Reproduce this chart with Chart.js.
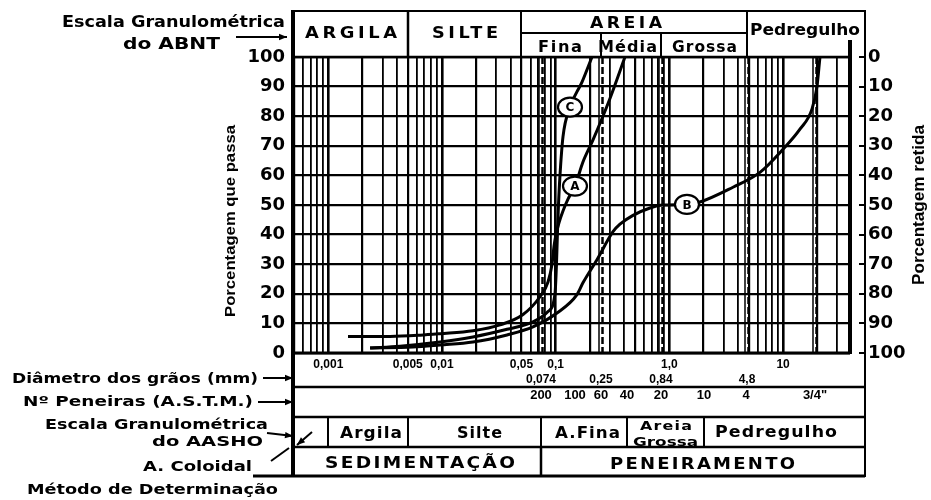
<!DOCTYPE html>
<html lang="pt">
<head>
<meta charset="utf-8">
<title>Curvas granulométricas</title>
<script src="https://cdn.jsdelivr.net/npm/chart.js@4.4.1/dist/chart.umd.min.js"></script>
<style>
  html, body { margin: 0; padding: 0; background: #fff; }
  canvas { display: block; }
</style>
</head>
<body>
<canvas id="grafico" width="931" height="500"></canvas>
<script>
// Grain diameter (mm) and percentage passing for samples A, B and C
const diametroA = [0.00149, 0.00349, 0.00641, 0.00960, 0.0187, 0.0324, 0.0516, 0.0727, 0.0856, 0.0928, 0.0966, 0.1006, 0.1069, 0.1159, 0.1283, 0.1478, 0.1737, 0.2129, 0.3003, 0.4069];
const passaA    = [5.6, 5.6, 6.0, 6.5, 7.5, 9.5, 13, 19, 24, 30, 36, 40, 44, 48, 52, 56.4, 64.5, 72, 86, 100];

const diametroB = [0.00233, 0.00556, 0.00960, 0.0187, 0.0373, 0.0631, 0.1027, 0.1539, 0.1737, 0.2308, 0.3192, 0.3677, 0.4785, 0.6752, 0.8786, 1.428, 1.858, 3.626, 6.263, 9.979, 14.08, 17.96, 19.87, 21.11];
const passaB    = [1.7, 2.0, 2.7, 3.7, 6.1, 8.8, 13.5, 19.7, 23.7, 31.5, 41, 43.5, 46.5, 49, 50, 50.2, 51, 56, 61, 68.8, 75.6, 82.4, 90, 100];

const diametroC = [0.00233, 0.00427, 0.00960, 0.0187, 0.0373, 0.0631, 0.0856, 0.0986, 0.1016, 0.1037, 0.1058, 0.1091, 0.1159, 0.1336, 0.1703, 0.2086];
const passaC    = [1.7, 2.3, 3.7, 5.4, 8, 10.5, 14, 20, 30, 41, 50, 60, 73, 83, 91.5, 100];

// Curve identifiers placed on each curve
const rotulos        = ['C', 'A', 'B'];
const rotuloDiametro = [0.1336, 0.1478, 1.428];
const rotuloPassa    = [83.05, 56.4, 50.2];

// Axis ranges and tick labels
const faixaDiametro   = [0.000489, 38.8];
const ticksDiametro   = [0.001, 0.005, 0.01, 0.05, 0.1, 1, 10];
const textosDiametro  = ['0,001', '0,005', '0,01', '0,05', '0,1', '1,0', '10'];
const ticksPercent    = [0, 10, 20, 30, 40, 50, 60, 70, 80, 90, 100];

// Sieve openings (mm) and ASTM sieve numbers
const aberturas       = [0.074, 0.25, 0.84, 4.8];
const textosAberturas = ['0,074', '0,25', '0,84', '4,8'];
const peneiras        = [0.074, 0.149, 0.25, 0.42, 0.84, 2.0, 4.76, 19.1];
const numerosPeneiras = ['200', '100', '60', '40', '20', '10', '4', '3/4"'];
const linhasPeneiras  = [0.074, 0.25, 0.84, 4.8, 19.1];

// Fraction limits (mm) of the ABNT and AASHO scales
const limitesABNT  = [0.005, 0.05, 0.25, 0.84, 4.8];
const limitesAASHO = [0.001, 0.005, 0.074, 0.42, 2.0];

// log-paper grid: 1..9 x 10^k
const linhasGrade = [];
for (let e = -4; e <= 1; e++) {
  for (let m = 1; m <= 9; m++) {
    const v = +(m * Math.pow(10, e)).toPrecision(6);
    if (v >= faixaDiametro[0] && v <= faixaDiametro[1]) linhasGrade.push(v);
  }
}

const SANS = 'DejaVu Sans';

function seg(ctx, x0, y0, x1, y1, w) {
  ctx.lineWidth = w;
  ctx.beginPath();
  ctx.moveTo(x0, y0);
  ctx.lineTo(x1, y1);
  ctx.stroke();
}

function seta(ctx, x0, y0, x1, y1) {
  seg(ctx, x0, y0, x1, y1, 2);
  const ang = Math.atan2(y1 - y0, x1 - x0);
  const L = 8, W = 3.2;
  ctx.beginPath();
  ctx.moveTo(x1, y1);
  ctx.lineTo(x1 - L * Math.cos(ang) + W * Math.sin(ang), y1 - L * Math.sin(ang) - W * Math.cos(ang));
  ctx.lineTo(x1 - L * Math.cos(ang) - W * Math.sin(ang), y1 - L * Math.sin(ang) + W * Math.cos(ang));
  ctx.closePath();
  ctx.fill();
}

// text squeezed or stretched to span x0..x1 on the given baseline
function texto(ctx, t, x0, x1, base, size, spacing, family) {
  ctx.save();
  ctx.font = 'bold ' + size + 'px "' + (family || SANS) + '"';
  ctx.letterSpacing = (spacing || 0) + 'px';
  const w = ctx.measureText(t).width - (spacing || 0);
  ctx.translate(x0, base);
  ctx.scale((x1 - x0) / w, 1);
  ctx.textAlign = 'left';
  ctx.textBaseline = 'alphabetic';
  ctx.fillStyle = '#000';
  ctx.fillText(t, 0, 0);
  ctx.restore();
}

function textoVertical(ctx, t, cx, y0, y1, size, family) {
  ctx.save();
  ctx.translate(cx, (y0 + y1) / 2);
  ctx.rotate(-Math.PI / 2);
  ctx.font = 'bold ' + size + 'px "' + family + '"';
  const w = ctx.measureText(t).width;
  ctx.scale((y1 - y0) / w, 1);
  ctx.textAlign = 'center';
  ctx.textBaseline = 'middle';
  ctx.fillStyle = '#000';
  ctx.fillText(t, 0, 0);
  ctx.restore();
}

function centrado(ctx, t, cx, base, size) {
  ctx.save();
  ctx.font = 'bold ' + size + 'px "Liberation Sans"';
  ctx.textAlign = 'center';
  ctx.textBaseline = 'alphabetic';
  ctx.fillStyle = '#000';
  ctx.fillText(t, cx, base);
  ctx.restore();
}

const folha = {
  id: 'folha',
  beforeDatasetsDraw(chart) {
    const { ctx, chartArea: a, scales: { x } } = chart;
    ctx.save();
    ctx.strokeStyle = '#000';
    linhasPeneiras.forEach(v => {
      const px = Math.round(x.getPixelForValue(v));
      ctx.setLineDash([]);
      seg(ctx, px - 2, a.top, px - 2, a.bottom, 1.5);
      ctx.setLineDash([7, 3]);
      seg(ctx, px + 1.5, a.top, px + 1.5, a.bottom, 2.5);
    });
    ctx.restore();
  },
  afterDatasetsDraw(chart) {
    const { ctx, scales: { x, y } } = chart;
    ctx.save();
    rotulos.forEach((t, i) => {
      const px = x.getPixelForValue(rotuloDiametro[i]);
      const py = y.getPixelForValue(rotuloPassa[i]);
      ctx.beginPath();
      ctx.ellipse(px, py, 12, 9.5, 0, 0, Math.PI * 2);
      ctx.fillStyle = '#fff';
      ctx.fill();
      ctx.lineWidth = 2.2;
      ctx.strokeStyle = '#000';
      ctx.stroke();
      ctx.fillStyle = '#000';
      ctx.font = 'bold 12px "' + SANS + '"';
      ctx.textAlign = 'center';
      ctx.textBaseline = 'middle';
      ctx.fillText(t, px, py + 1);
    });
    ctx.restore();
  },
  afterDraw(chart) {
    const { ctx, chartArea: a, scales: { x, y2 } } = chart;
    const L = a.left, R = 865, D = a.right;
    const X = v => Math.round(x.getPixelForValue(v));
    ctx.save();
    ctx.strokeStyle = '#000';
    ctx.fillStyle = '#000';

    // plot frame
    seg(ctx, L, 10, L, 477, 4);
    seg(ctx, L - 2, a.bottom, D, a.bottom, 3);
    seg(ctx, L, a.top, D, a.top, 2.5);
    seg(ctx, D, 40, D, a.bottom + 1, 4);
    seg(ctx, R, 10, R, 477, 2);
    ticksPercent.forEach(v => {
      const py = Math.round(y2.getPixelForValue(v));
      seg(ctx, R - 6, py, R, py, 2);
    });

    // ABNT header
    seg(ctx, L, 11, R, 11, 2);
    seg(ctx, X(limitesABNT[0]), 11, X(limitesABNT[0]), a.top, 2.5);
    seg(ctx, X(limitesABNT[1]), 11, X(limitesABNT[1]), a.top, 2);
    seg(ctx, X(limitesABNT[4]), 11, X(limitesABNT[4]), a.top, 2);
    seg(ctx, X(limitesABNT[1]), 33, X(limitesABNT[4]), 33, 2);
    seg(ctx, X(limitesABNT[2]), 33, X(limitesABNT[2]), a.top, 2);
    seg(ctx, X(limitesABNT[3]), 33, X(limitesABNT[3]), a.top, 2);

    texto(ctx, 'ARGILA', 305, 397, 38, 15, 3);
    texto(ctx, 'SILTE', 432, 498, 38, 15, 3);
    texto(ctx, 'AREIA', 590, 662, 28, 15, 3);
    texto(ctx, 'Fina', 538, 582, 52, 15, 1.5);
    texto(ctx, 'Média', 598, 657, 52, 15, 1);
    texto(ctx, 'Grossa', 672, 737, 52, 15, 1);
    texto(ctx, 'Pedregulho', 750, 860, 35, 15, 0);

    texto(ctx, 'Escala Granulométrica', 62, 285, 27, 16.5);
    texto(ctx, 'do ABNT', 123, 220, 49, 16.5);
    seta(ctx, 236, 37, 287, 37);

    // axis titles
    textoVertical(ctx, 'Porcentagem que passa', 231, 125, 317, 15, 'Liberation Sans');
    textoVertical(ctx, 'Porcentagem retida', 920, 125, 285, 16, 'Liberation Sans');

    // lower table
    seg(ctx, L, 387, R, 387, 2.5);
    seg(ctx, L, 417, R, 417, 2.5);
    seg(ctx, L, 447, R, 447, 2.5);
    seg(ctx, 253, 476, R, 476, 3);

    aberturas.forEach((v, i) => centrado(ctx, textosAberturas[i], X(v), 383, 12));
    peneiras.forEach((v, i) => centrado(ctx, numerosPeneiras[i], X(v), 399, 13));

    limitesAASHO.forEach(v => seg(ctx, X(v), 417, X(v), 447, 2));
    seg(ctx, X(limitesAASHO[2]), 447, X(limitesAASHO[2]), 476, 2.5);

    texto(ctx, 'Argila', 340, 402, 438, 16, 1);
    texto(ctx, 'Silte', 457, 502, 438, 16, 1);
    texto(ctx, 'A.Fina', 555, 620, 438, 16, 1);
    texto(ctx, 'Areia', 640, 692, 430, 13, 1);
    texto(ctx, 'Grossa', 633, 698, 446, 13, 0);
    texto(ctx, 'Pedregulho', 715, 837, 437, 16, 1);
    texto(ctx, 'SEDIMENTAÇÃO', 325, 515, 468, 16, 2);
    texto(ctx, 'PENEIRAMENTO', 610, 795, 469, 16, 2);

    // row captions on the left
    texto(ctx, 'Diâmetro dos grãos (mm)', 12, 258, 383, 14.5);
    seta(ctx, 263, 378, 293, 378);
    texto(ctx, 'Nº Peneiras (A.S.T.M.)', 23, 253, 406, 14.5);
    seta(ctx, 258, 402, 293, 402);
    texto(ctx, 'Escala Granulométrica', 45, 268, 429, 14.5);
    texto(ctx, 'do AASHO', 152, 263, 446, 14.5);
    seta(ctx, 267, 433, 293, 436);
    seta(ctx, 312, 432, 297, 445);
    texto(ctx, 'A. Coloidal', 143, 252, 471, 14.5);
    seg(ctx, 271, 461, 289, 448, 2);
    texto(ctx, 'Método de Determinação', 27, 278, 494, 14.5);

    ctx.restore();
  }
};

const linha = (xs, ys) => xs.map((d, i) => ({ x: d, y: ys[i] }));
const estiloCurva = {
  borderColor: '#000',
  borderWidth: 3,
  pointRadius: 0,
  fill: false,
  cubicInterpolationMode: 'monotone'
};

new Chart(document.getElementById('grafico'), {
  type: 'line',
  data: {
    datasets: [
      Object.assign({ label: 'A', data: linha(diametroA, passaA) }, estiloCurva),
      Object.assign({ label: 'B', data: linha(diametroB, passaB) }, estiloCurva),
      Object.assign({ label: 'C', data: linha(diametroC, passaC) }, estiloCurva)
    ]
  },
  options: {
    responsive: false,
    animation: false,
    events: [],
    layout: { padding: { top: 57, left: 0, right: 0, bottom: 0 } },
    plugins: { legend: { display: false }, tooltip: { enabled: false } },
    scales: {
      x: {
        type: 'logarithmic',
        min: faixaDiametro[0],
        max: faixaDiametro[1],
        bounds: 'data',
        afterBuildTicks: s => { s.ticks = linhasGrade.map(v => ({ value: v })); },
        afterFit: s => { s.height = 147; },
        border: { display: false },
        grid: {
          color: '#000',
          drawTicks: false,
          lineWidth: c => {
            const v = c.tick ? c.tick.value : 1;
            const m = v / Math.pow(10, Math.floor(Math.log10(v) + 1e-9));
            if (Math.abs(m - 1) < 1e-6) return 2.6;
            if (Math.abs(m - 5) < 1e-6 || Math.abs(m - 2) < 1e-6) return 2.2;
            return 1.8;
          }
        },
        ticks: {
          autoSkip: false,
          maxRotation: 0,
          minRotation: 0,
          padding: 4,
          color: '#000',
          font: { family: 'Liberation Sans', weight: 'bold', size: 12 },
          callback: v => {
            const i = ticksDiametro.findIndex(t => Math.abs(t - v) / t < 1e-6);
            return i >= 0 ? textosDiametro[i] : '';
          }
        }
      },
      y: {
        position: 'left',
        min: 0,
        max: 100,
        afterFit: s => { s.width = 293; },
        border: { display: false },
        grid: { color: '#000', lineWidth: 2.3, drawTicks: false },
        ticks: {
          stepSize: 10,
          padding: 8,
          color: '#000',
          font: { family: SANS, weight: 'bold', size: 18 }
        }
      },
      y2: {
        position: 'right',
        min: 0,
        max: 100,
        reverse: true,
        afterFit: s => { s.width = 81; },
        border: { display: false },
        grid: { display: false, drawTicks: false },
        ticks: {
          stepSize: 10,
          padding: 18,
          color: '#000',
          font: { family: SANS, weight: 'bold', size: 18 }
        }
      }
    }
  },
  plugins: [folha]
});
</script>
</body>
</html>
